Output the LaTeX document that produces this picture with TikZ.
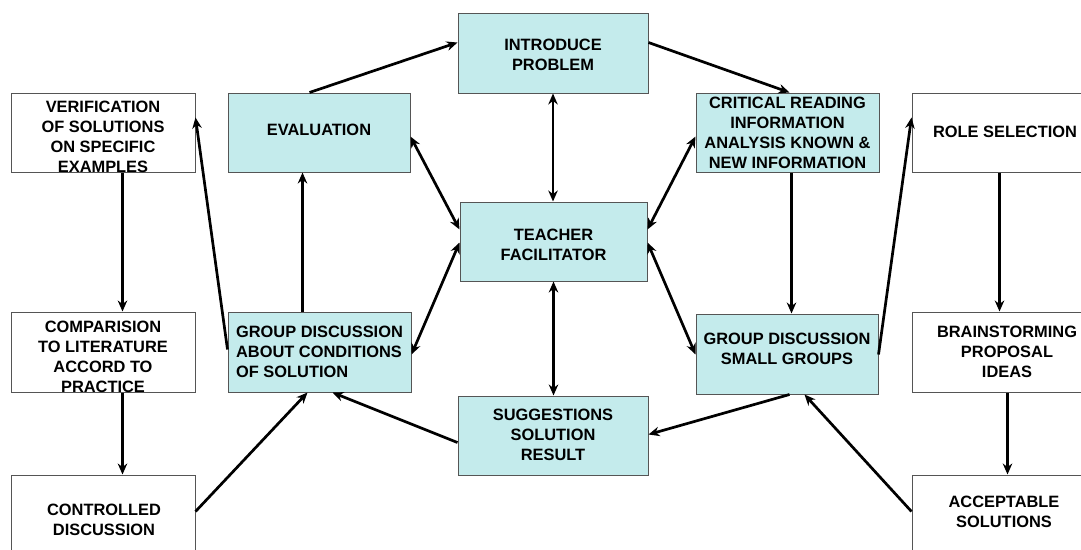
\documentclass[tikz,border=0pt]{standalone}
\usepackage{fontspec}
\setmainfont{Liberation Sans}
\usetikzlibrary{arrows.meta,calc}
\definecolor{boxcyan}{RGB}{196,235,236}
\definecolor{boxline}{RGB}{85,85,85}
\begin{document}
\begin{tikzpicture}[x=1pt,y=-1pt,
  wbox/.style={draw=boxline,fill=white,line width=1pt,minimum width=184pt,minimum height=80pt,inner sep=0pt},
  cbox/.style={wbox,fill=boxcyan},
  txt/.style={font=\bfseries\fontsize{16.4}{20}\selectfont,align=center,inner sep=0pt},
  arr/.style={line width=2.7pt,-{Stealth[length=11pt,width=9.5pt]}},
  darr/.style={line width=2.7pt,{Stealth[length=11pt,width=9.5pt]}-{Stealth[length=11pt,width=9.5pt]}}]
\useasboundingbox (0,0) rectangle (1081,549);
\fill[white] (0,0) rectangle (1081,549);

% boxes
\node[cbox,minimum width=190pt] (intro) at (553,53) {};
\node[cbox,minimum width=182pt,minimum height=79pt] (eval) at (319,132.5) {};
\node[wbox,minimum height=79pt] (verif) at (103,132.5) {};
\node[cbox,minimum width=183pt,minimum height=79pt] (crit) at (787.5,132.5) {};
\node[wbox,minimum width=183pt,minimum height=79pt] (role) at (1003.5,132.5) {};
\node[cbox,minimum width=187pt,minimum height=79pt] (teacher) at (553.5,241.5) {};
\node[wbox] (compar) at (103,352) {};
\node[cbox,minimum width=183pt] (gabout) at (319.5,352) {};
\node[cbox,minimum width=182pt] (gsmall) at (787,354) {};
\node[wbox,minimum width=183pt] (brain) at (1003.5,352) {};
\node[wbox] (controlled) at (103,515) {};
\node[wbox,minimum width=183pt] (accept) at (1003.5,515) {};
\node[cbox,minimum width=190pt,minimum height=79pt] (sugg) at (553,435.5) {};

% texts
\node[txt] (introt) at (553,55) {INTRODUCE\\PROBLEM};
\node[txt] (evalt) at (319,130) {EVALUATION};
\node[txt] (verift) at (103,137) {VERIFICATION\\OF SOLUTIONS\\ON SPECIFIC\\EXAMPLES};
\node[txt] (critt) at (787.5,133) {CRITICAL READING\\INFORMATION\\ANALYSIS KNOWN \&\\NEW INFORMATION};
\node[txt] (rolet) at (1005,132) {ROLE SELECTION};
\node[txt] (teachert) at (553.5,245) {TEACHER\\FACILITATOR};
\node[txt] (compart) at (103,357) {COMPARISION\\TO LITERATURE\\ACCORD TO\\PRACTICE};
\node[txt,align=left] (gaboutt) at (319.5,352) {GROUP DISCUSSION\\ABOUT CONDITIONS\\OF SOLUTION};
\node[txt] (gsmallt) at (787,349) {GROUP DISCUSSION\\SMALL GROUPS};
\node[txt] (braint) at (1007,352) {BRAINSTORMING\\PROPOSAL\\IDEAS};
\node[txt] (controlledt) at (104,520) {CONTROLLED\\DISCUSSION};
\node[txt] (acceptt) at (1004,512) {ACCEPTABLE\\SOLUTIONS};
\node[txt] (suggt) at (553,435) {SUGGESTIONS\\SOLUTION\\RESULT};

% connectors
\draw[arr] ($(eval.north west)+(82,0)$) -- ($(intro.north west)+(0,30)$);
\draw[arr] ($(intro.north east)+(0,30)$) -- ($(crit.north west)+(94,0)$);
\draw[darr] (intro.south) -- (intro.south |- teacher.north);
\draw[darr] ($(eval.north east)+(0,44)$) -- ($(teacher.north west)+(0,28)$);
\draw[darr] ($(crit.north west)+(0,44)$) -- ($(teacher.north east)+(0,28)$);
\draw[darr] ($(teacher.north west)+(0,41)$) -- ($(gabout.north east)+(0,43)$);
\draw[darr] ($(teacher.north east)+(0,41)$) -- ($(gsmall.north west)+(0,41)$);
\draw[darr] (teacher.south) -- (teacher.south |- sugg.north);
\draw[arr] ($(crit.south west)+(96,0)$) -- ($(gsmall.north west)+(96,0)$);
\draw[arr] ($(gsmall.south west)+(94,0)$) -- ($(sugg.north east)+(0,39)$);
\draw[arr] ($(sugg.north west)+(0,47)$) -- ($(gabout.south west)+(105,0)$);
\draw[arr] ($(controlled.north east)+(0,37)$) -- ($(gabout.south west)+(80,0)$);
\draw[arr] ($(accept.north west)+(0,37)$) -- ($(gsmall.south west)+(109,0)$);
\draw[arr] ($(gabout.north west)+(75,0)$) -- ($(eval.south west)+(75,0)$);
\draw[arr] ($(gabout.north west)+(0,38)$) -- ($(verif.north east)+(0,25)$);
\draw[arr] ($(gsmall.north east)+(0,41)$) -- ($(role.north west)+(0,25)$);
\draw[arr] ($(verif.south west)+(112,0)$) -- ($(compar.north west)+(112,0)$);
\draw[arr] ($(compar.south west)+(112,0)$) -- ($(controlled.north west)+(112,0)$);
\draw[arr] ($(role.south west)+(88,0)$) -- ($(brain.north west)+(88,0)$);
\draw[arr] ($(brain.south west)+(96,0)$) -- ($(accept.north west)+(96,0)$);
\end{tikzpicture}
\end{document}
